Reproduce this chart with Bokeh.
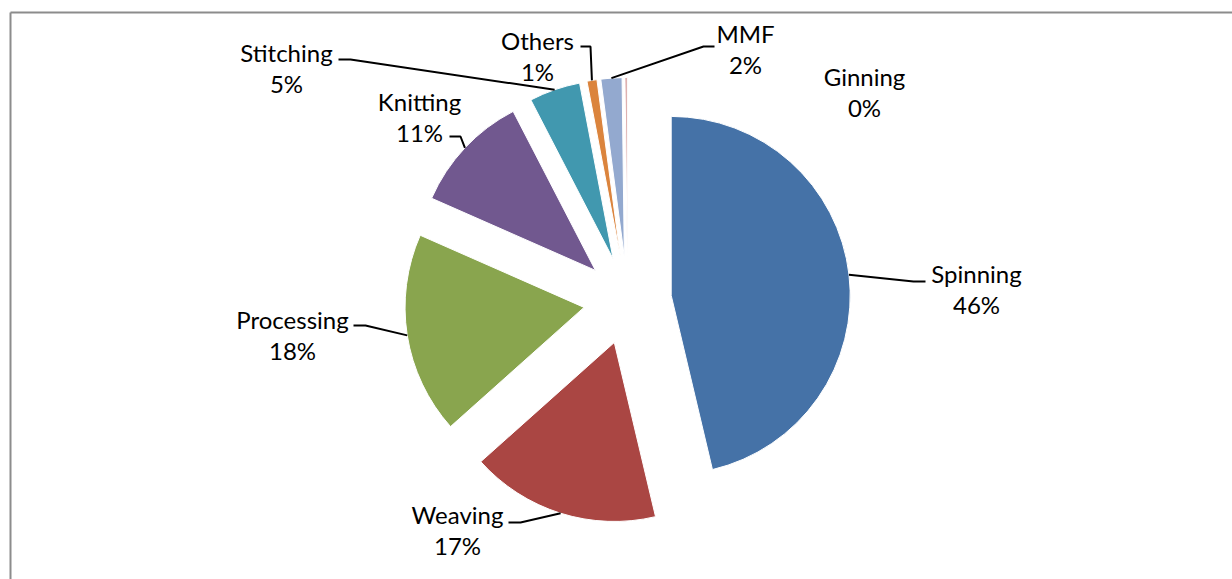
import math
from bokeh.plotting import figure
from bokeh.models import Range1d
from bokeh.core.properties import value
from bokeh.embed import file_html
from bokeh.resources import INLINE

# ---- data ----
categories = ["Spinning", "Weaving", "Processing", "Knitting", "Stitching", "Others", "MMF", "Ginning"]
shares = [46.3, 17.1, 18.2, 10.8, 4.6, 0.9, 1.9, 0.2]
colors = ["#4572A7", "#AA4643", "#89A54E", "#71588F", "#4198AF", "#DB843D", "#93A9CF", "#D19392"]

# ---- layout (screen pixels, y downwards) ----
W, H = 1232, 579
CX, CY = 627, 300
R = 179
EXPLODE = 44
FONT = "Lato"
FSIZE = "24px"
LINE_GAP = 31
# label centre (first line) per category
label_pos = {
    "Spinning": (976, 273),
    "Weaving": (457, 514),
    "Processing": (292, 319),
    "Knitting": (419, 101),
    "Stitching": (286, 52),
    "Others": (537, 40),
    "MMF": (745, 33),
    "Ginning": (864, 76),
}
# leader line elbow and end points
leader = {
    "Spinning": [(913, 281), (925, 281)],
    "Weaving": [(520, 522), (508, 522)],
    "Processing": [(365, 325), (353, 325)],
    "Knitting": [(460, 136), (449, 136)],
    "Stitching": [(350, 59), (338, 59)],
    "Others": [(590, 46), (580, 46)],
    "MMF": [(703, 46), (714, 46)],
}


def sy(y):
    return H - y


p = figure(width=W, height=H, x_range=Range1d(0, W), y_range=Range1d(0, H),
           output_backend="svg", toolbar_location=None, min_border=0)
p.axis.visible = False
p.grid.visible = False
p.outline_line_color = None
p.background_fill_color = "white"
p.border_fill_color = "white"

total = sum(shares)
cum = 0.0
wx, wy, starts, ends = [], [], [], []
arc_pts = {}
for cat, v in zip(categories, shares):
    c0 = cum / total * 360.0
    cum += v
    c1 = cum / total * 360.0
    mid = math.radians((c0 + c1) / 2)
    ex = CX + EXPLODE * math.sin(mid)
    ey = CY - EXPLODE * math.cos(mid)
    wx.append(ex)
    wy.append(sy(ey))
    starts.append(math.radians(90 - c0))
    ends.append(math.radians(90 - c1))
    arc_pts[cat] = (ex + R * math.sin(mid), ey - R * math.cos(mid))

p.wedge(x=wx, y=wy, radius=R, start_angle=starts, end_angle=ends, direction="clock",
        fill_color=colors, line_color="white", line_width=1)

# leader lines
xs, ys = [], []
for cat in categories:
    if cat not in leader:
        continue
    pts = [arc_pts[cat]] + leader[cat]
    xs.append([q[0] for q in pts])
    ys.append([sy(q[1]) for q in pts])
p.multi_line(xs=xs, ys=ys, line_color="black", line_width=2)

# labels
lx = [label_pos[c][0] for c in categories]
ly1 = [sy(label_pos[c][1]) for c in categories]
ly2 = [sy(label_pos[c][1] + LINE_GAP) for c in categories]
pct = [f"{round(v / total * 100)}%" for v in shares]
p.text(x=lx, y=ly1, text=categories, text_align="center", text_baseline="middle",
       text_font=value(FONT), text_font_size=FSIZE, text_color="black")
p.text(x=lx, y=ly2, text=pct, text_align="center", text_baseline="middle",
       text_font=value(FONT), text_font_size=FSIZE, text_color="black")

# chart border (left and top visible)
p.segment(x0=[10, 10], y0=[0, sy(12)], x1=[10, W], y1=[sy(12), sy(12)],
          line_color="#8C8C8C", line_width=2)

open("out.html", "w").write(file_html(p, INLINE))
